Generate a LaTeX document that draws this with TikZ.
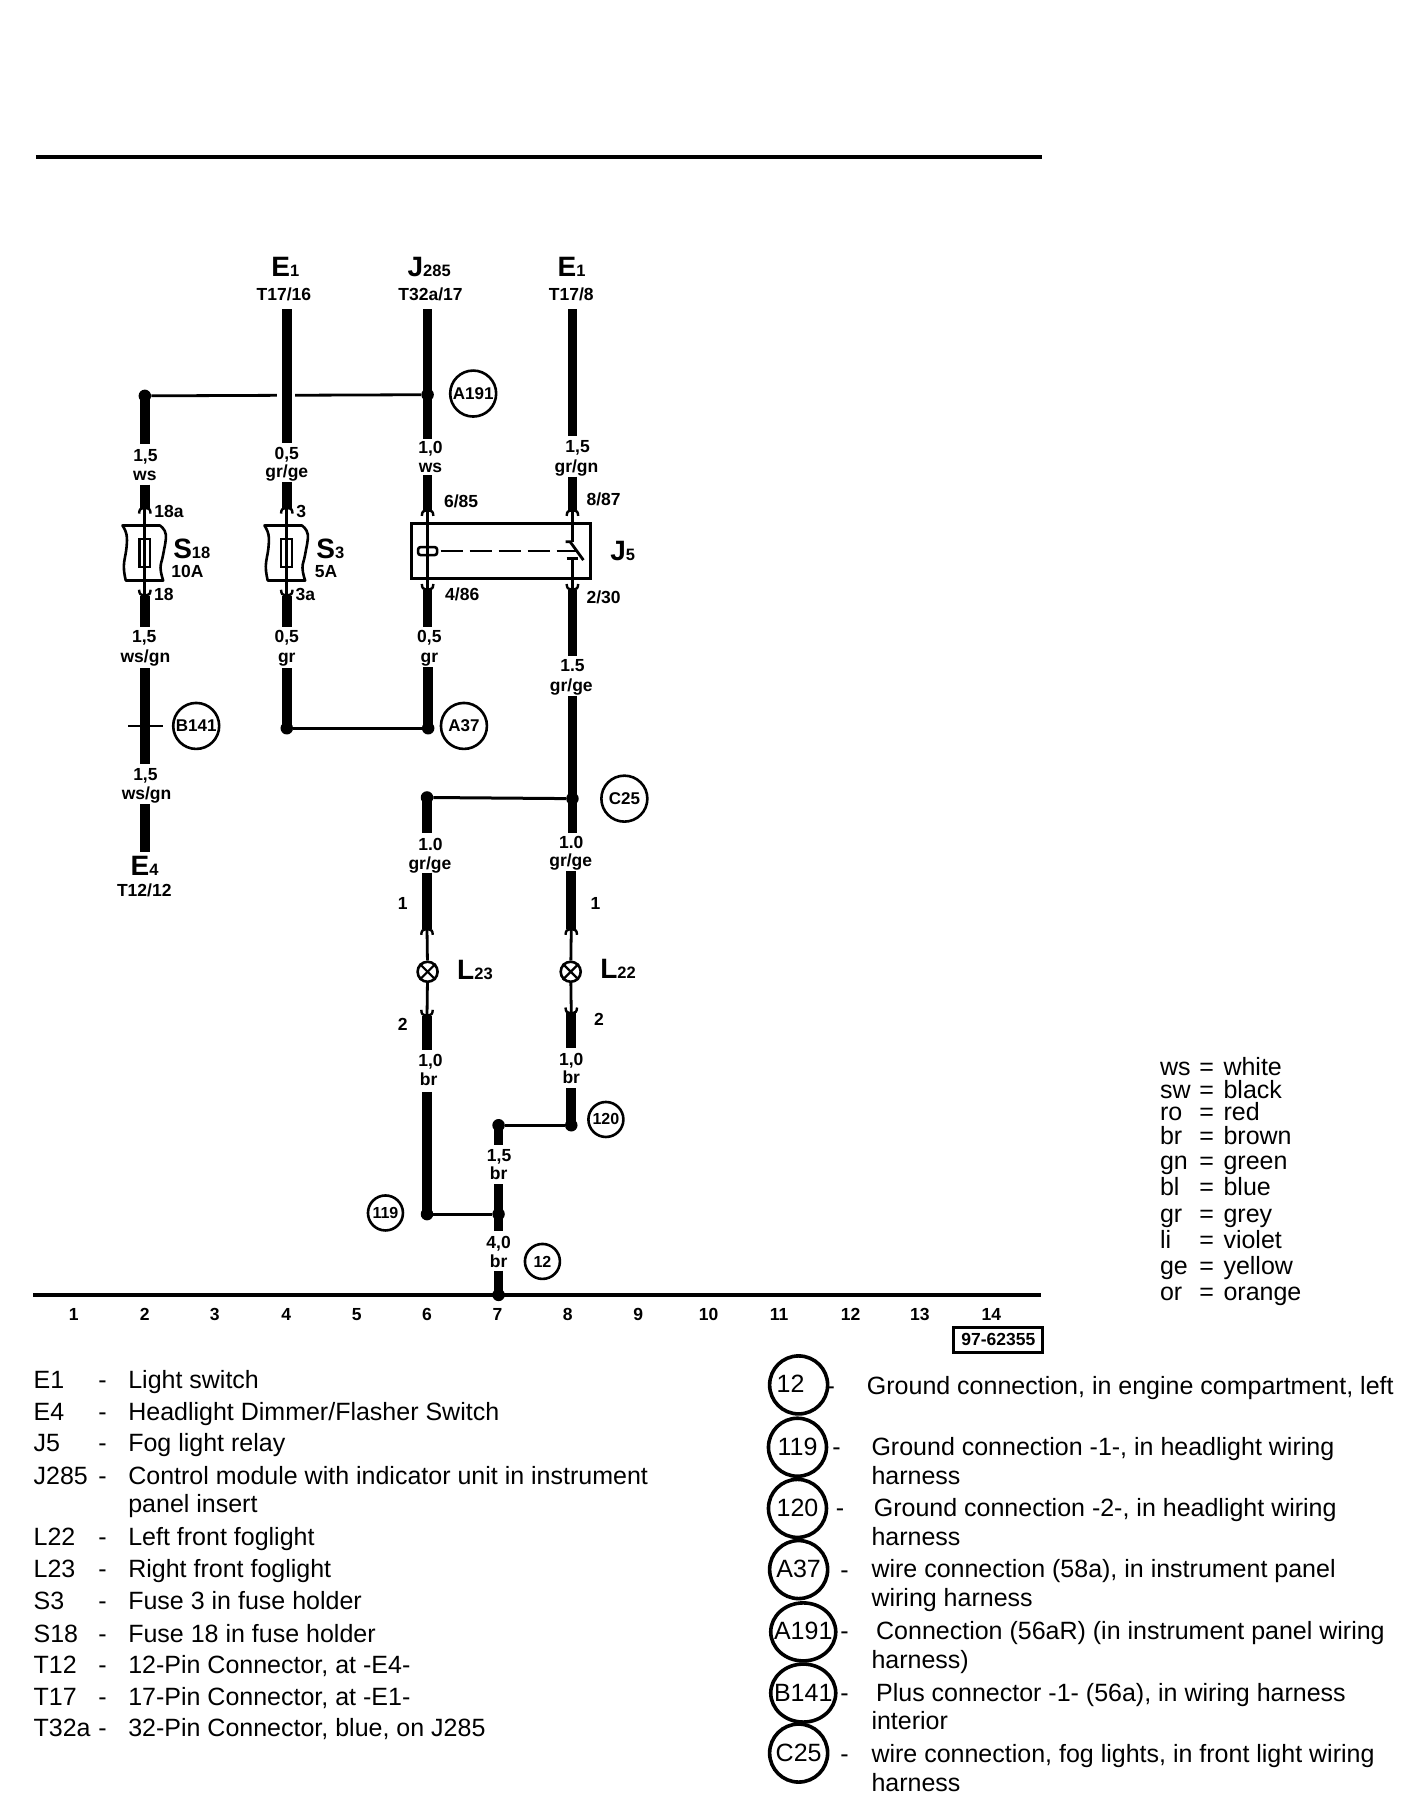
\documentclass[tikz,border=0pt]{standalone}
\usepackage{fontspec}
\setmainfont{Liberation Sans}
\usetikzlibrary{shapes.geometric}
\newcommand\bigsub[2]{{\fontsize{28}{28}\selectfont #1}{\fontsize{16.5}{16.5}\selectfont #2}}
% cap of a connector: arch over the thin lead; dir 1 opens downward, -1 upward
\newcommand\wirecap[3]{\draw[capline] (#1-5,#2+5*#3) .. controls (#1-4.5,#2+1*#3) .. (#1,#2) .. controls (#1+4.5,#2+1*#3) .. (#1+5,#2+5*#3);}
\newcommand\fusebody[2]{%
  \begin{scope}[shift={(#1,#2)}]
    \draw[symline,line join=round] plot[smooth,tension=.7] coordinates {(-19.4,-23.7) (-15.9,-15.9) (-15.9,-4.3) (-18.2,11.6) (-16.5,24)}
      -- plot[smooth,tension=.7] coordinates {(15.9,24) (13.6,13) (15.9,1.4) (18.2,-15.9) (13,-23.7)} -- cycle;
    \draw[symline,line width=2.2pt] (-4.7,-12) rectangle (4.7,12);
  \end{scope}}
\tikzset{
  x=1.15410pt,y=-1.15410pt,
  wire/.style={line width=9.6pt,line cap=butt},
  lead/.style={line width=2.8pt},
  symline/.style={line width=2.6pt},
  capline/.style={line width=2.4pt},
  rule/.style={line width=3.4pt},
  dotnode/.style={circle,fill=black,inner sep=0pt,minimum size=12.5pt},
  lab/.style={inner sep=0pt,font=\bfseries\fontsize{17.5}{17.5}\selectfont,text height=11.5pt,text depth=0pt},
  big/.style={inner sep=0pt,font=\bfseries,anchor=base west},
  ring/.style={circle,draw,line width=2.6pt,inner sep=0pt,minimum size=46pt,font=\bfseries\fontsize{17}{17}\selectfont},
  sring/.style={circle,draw,line width=2.6pt,inner sep=0pt,minimum size=35pt,font=\bfseries\fontsize{16}{16}\selectfont},
  txt/.style={inner sep=0pt,anchor=west,font=\fontsize{25}{25}\selectfont,text height=16pt,text depth=0pt},
  lgring/.style={ellipse,draw,line width=3.6pt,inner sep=0pt,minimum width=#1,minimum height=58pt},
  every label/.style={inner sep=0pt,font=\fontsize{25}{25}\selectfont,text height=16pt,text depth=0pt},
}
\begin{document}
\begin{tikzpicture}
\useasboundingbox[fill=white] (0,0) rectangle (1220,1566.6);
% rules
\coordinate (ra) at (31,136); \coordinate (rb) at (903,136);
\draw[rule] (ra) -- (rb);
\coordinate (ga) at (29,1122); \coordinate (gb) at (902,1122);
\draw[rule,line width=4pt] (ga) -- (gb);
% junctions
\node[dotnode] (d2) at (125.5,343) {};
\node[dotnode] (d6) at (370.5,342) {};
\node[dotnode] (d4b) at (248.5,631) {};
\node[dotnode] (d6b) at (371,631) {};
\node[dotnode] (d6c) at (370,691) {};
\node[dotnode] (d8c) at (496,692) {};
\node[dotnode] (d7t) at (432,975) {};
\node[dotnode] (d8t) at (495,975) {};
\node[dotnode] (d6g) at (370,1052) {};
\node[dotnode] (d7g) at (432,1052) {};
\node[dotnode] (d7e) at (432,1122) {};
% column 2
\coordinate (a1) at (125.5,343); \coordinate (a2) at (125.5,385);
\coordinate (a3) at (125.5,420); \coordinate (a4) at (125.5,440);
\coordinate (a5) at (125.5,516); \coordinate (a6) at (125.5,543);
\coordinate (a7) at (125.5,579); \coordinate (a8) at (125.5,662);
\coordinate (a9) at (125.5,697); \coordinate (a10) at (125.5,738);
\draw[wire] (a1) -- (a2); \draw[wire] (a3) -- (a4); \draw[wire] (a5) -- (a6);
\draw[wire] (a7) -- (a8); \draw[wire] (a9) -- (a10);
\draw[lead] (a4) -- (a5);
% column 4
\coordinate (b1) at (248.5,268); \coordinate (b2) at (248.5,384);
\coordinate (b3) at (248.5,418); \coordinate (b4) at (248.5,440);
\coordinate (b5) at (248.5,516); \coordinate (b6) at (248.5,543);
\coordinate (b7) at (248.5,579); \coordinate (b8) at (248.5,631);
\draw[wire] (b3) -- (b4); \draw[wire] (b5) -- (b6); \draw[wire] (b7) -- (b8);
\draw[lead] (b4) -- (b5);
% column 6
\coordinate (c1) at (370.5,268); \coordinate (c2) at (370.5,380);
\coordinate (c3) at (370.5,412); \coordinate (c4) at (370.5,442);
\coordinate (c5) at (370.5,511); \coordinate (c6) at (370.5,543);
\coordinate (c7) at (371,578); \coordinate (c8) at (371,631);
\coordinate (c9) at (370,691); \coordinate (c10) at (370,722);
\coordinate (c11) at (370,756); \coordinate (c12) at (370,805);
\coordinate (c13) at (370,880); \coordinate (c14) at (370,910);
\coordinate (c15) at (370,946); \coordinate (c16) at (370,1052);
\draw[wire] (c1) -- (c2); \draw[wire] (c3) -- (c4); \draw[wire] (c5) -- (c6); \draw[wire] (c7) -- (c8);
\draw[wire] (c9) -- (c10); \draw[wire] (c11) -- (c12); \draw[wire] (c13) -- (c14); \draw[wire] (c15) -- (c16);
\draw[lead] (c4) -- (c5);
% column 8
\coordinate (e1) at (496,268); \coordinate (e2) at (496,378);
\coordinate (e3) at (496,413); \coordinate (e4) at (496,442);
\coordinate (e5) at (496,469.4); \coordinate (e6) at (496,484);
\coordinate (e7) at (496,511); \coordinate (e8) at (496,568);
\coordinate (e9) at (496,603); \coordinate (e10) at (496,722);
\coordinate (e11) at (495,755); \coordinate (e12) at (495,805);
\coordinate (e13) at (495,878); \coordinate (e14) at (495,908);
\coordinate (e15) at (495,943); \coordinate (e16) at (495,975);
\draw[wire] (e1) -- (e2); \draw[wire] (e3) -- (e4); \draw[wire] (e7) -- (e8); \draw[wire] (e9) -- (e10);
\draw[wire] (e11) -- (e12); \draw[wire] (e13) -- (e14); \draw[wire] (e15) -- (e16);
\draw[lead] (e4) -- (e5); \draw[lead] (e6) -- (e7);
% column 7
\coordinate (f1) at (432,975); \coordinate (f2) at (432,992);
\coordinate (f3) at (432,1026); \coordinate (f4) at (432,1067);
\coordinate (f5) at (432,1101); \coordinate (f6) at (432,1122);
\draw[wire] (f1) -- (f2); \draw[wire] (f3) -- (f4); \draw[wire] (f5) -- (f6);
% cross links
\draw[lead] (d2) -- (d6);
\fill[white] (240,338) rectangle (256,347);
\draw[wire] (b1) -- (b2);
\draw[symline,line width=3pt] (d4b) -- (d6b);
\draw[symline,line width=3pt] (d6c) -- (d8c);
\draw[lead] (d7t) -- (d8t);
\draw[symline,line width=3pt] (d6g) -- (d7g);
\coordinate (t1) at (111,629); \coordinate (t2) at (141,629);
\draw[lead] (t1) -- (t2);
% caps
\wirecap{125.5}{440}{1} \wirecap{125.5}{516}{-1}
\wirecap{248.5}{440}{1} \wirecap{248.5}{516}{-1}
\wirecap{370.5}{442}{1} \wirecap{370.5}{511}{-1}
\wirecap{496}{442}{1} \wirecap{496}{511}{-1}
\wirecap{370}{805}{1} \wirecap{370}{880}{-1}
\wirecap{495}{805}{1} \wirecap{495}{878}{-1}
% fuses
\fusebody{125.5}{479}
\fusebody{248.5}{479}
% relay
\node[draw,line width=3pt,minimum width=179pt,minimum height=55pt,inner sep=0pt] (relay) at (434.4,477) {};
\node[draw,line width=2.6pt,rounded corners=2.5pt,inner sep=0pt,minimum width=19pt,minimum height=8pt] (coil) at (370.5,477.5) {};
\coordinate (sw0) at (500,477.5);
\draw[lead,dash pattern=on 22pt off 7pt] (coil.east) ++(2,0) -- (sw0);
\coordinate (sw1) at (490,469.4); \coordinate (sw2) at (494,469.4); \coordinate (sw3) at (505.5,485.3);
\draw[lead] (sw1) -- (sw2) -- (sw3);
\coordinate (sw4) at (491,484); \coordinate (sw5) at (501,484);
\draw[lead] (sw4) -- (sw5);
% lamps
\coordinate (l1) at (370,805); \coordinate (l2) at (370,880);
\node[circle,draw,line width=2.6pt,minimum size=20pt,inner sep=0pt,fill=white] (lamp23) at (370.5,842) {};
\draw[lead] (l1) -- (lamp23); \draw[lead] (lamp23) -- (l2);
\draw[lead,line width=2.2pt] (lamp23.north west) -- (lamp23.south east);
\draw[lead,line width=2.2pt] (lamp23.north east) -- (lamp23.south west);
\coordinate (l3) at (495,805); \coordinate (l4) at (495,878);
\node[circle,draw,line width=2.6pt,minimum size=20pt,inner sep=0pt,fill=white] (lamp22) at (494.5,842) {};
\draw[lead] (l3) -- (lamp22); \draw[lead] (lamp22) -- (l4);
\draw[lead,line width=2.2pt] (lamp22.north west) -- (lamp22.south east);
\draw[lead,line width=2.2pt] (lamp22.north east) -- (lamp22.south west);
% component titles
\node[big] (tE1a) at (235,240) {\bigsub{E}{1}};
\node[big] (tJ285) at (353,240) {\bigsub{J}{285}};
\node[big] (tE1b) at (483,240) {\bigsub{E}{1}};
\node[lab] (pa) at (246,255) {T17/16};
\node[lab] (pb) at (373,255) {T32a/17};
\node[lab] (pc) at (495,255) {T17/8};
\node[big] (tS18) at (150,484) {\bigsub{S}{18}};
\node[big] (tS3) at (274,484) {\bigsub{S}{3}};
\node[lab] (a10A) at (162.5,495) {10A};
\node[lab] (a5A) at (282.5,495) {5A};
\node[big] (tJ5) at (528.6,486) {\bigsub{J}{5}};
\node[big] (tE4) at (113,759) {\bigsub{E}{4}};
\node[lab] (pd) at (125,772) {T12/12};
\node[big] (tL23) at (396,849) {\bigsub{L}{23}};
\node[big] (tL22) at (520,848) {\bigsub{L}{22}};
% wire labels
\node[lab] (n1) at (126,395) {1,5};  \node[lab] (n2) at (125.5,411) {ws};
\node[lab] (n3) at (248.5,393) {0,5}; \node[lab] (n4) at (248.5,409) {gr/ge};
\node[lab] (n5) at (373,388) {1,0}; \node[lab] (n6) at (373,404) {ws};
\node[lab] (n7) at (500.5,387) {1,5}; \node[lab] (n8) at (499.5,404) {gr/gn};
\node[lab] (n9) at (125,552) {1,5}; \node[lab] (n10) at (126,569) {ws/gn};
\node[lab] (n11) at (248.5,552) {0,5}; \node[lab] (n12) at (248.5,569) {gr};
\node[lab] (n13) at (372,552) {0,5}; \node[lab] (n14) at (372,569) {gr};
\node[lab] (n15) at (496,577) {1.5}; \node[lab] (n16) at (495,594) {gr/ge};
\node[lab] (n17) at (126,671) {1,5}; \node[lab] (n18) at (127,688) {ws/gn};
\node[lab] (n19) at (373,732) {1.0}; \node[lab] (n20) at (372.5,748) {gr/ge};
\node[lab] (n21) at (495,730) {1.0}; \node[lab] (n22) at (494.5,746) {gr/ge};
\node[lab] (n23) at (373,919) {1,0}; \node[lab] (n24) at (371.5,936) {br};
\node[lab] (n25) at (495,918) {1,0}; \node[lab] (n26) at (495,934) {br};
\node[lab] (n27) at (432.5,1001) {1,5}; \node[lab] (n28) at (432,1017) {br};
\node[lab] (n29) at (432,1077) {4,0}; \node[lab] (n30) at (432,1093) {br};
% pin labels
\node[lab] (p1) at (146.5,443) {18a};
\node[lab] (p2) at (142,515) {18};
\node[lab] (p3) at (261,443) {3};
\node[lab] (p4) at (264.5,515.5) {3a};
\node[lab] (p5) at (399.5,434.7) {6/85};
\node[lab] (p6) at (523,433) {8/87};
\node[lab] (p7) at (400.5,515) {4/86};
\node[lab] (p8) at (523,517.5) {2/30};
\node[lab] (p9) at (349,783) {1};
\node[lab] (p10) at (516,783) {1};
\node[lab] (p11) at (349,888) {2};
\node[lab] (p12) at (519,884) {2};
% circled references
\node[ring] (A191) at (410,341) {A191};
\node[ring] (B141) at (170,629) {B141};
\node[ring] (A37) at (402,629) {A37};
\node[ring] (C25) at (541,692) {C25};
\node[sring] (s120) at (525,970) {120};
\node[sring] (s119) at (334,1051) {119};
\node[sring] (s12) at (470,1093) {12};
% grid numbers
\foreach \n/\xx in {1/64,2/125.5,3/186,4/248,5/309,6/370,7/431,8/492,9/553,10/614,11/675,12/737,13/797,14/859}
  \node[lab] (g\n) at (\xx,1139) {\n};
\node[draw,line width=2.8pt,lab,text height=12pt,minimum width=89pt,minimum height=25pt] (code) at (865,1161) {97-62355};
% component legend
\foreach \k/\yy/\code in {1/1196/E1,2/1224/E4,3/1251/J5,4/1279/J285,5/1332/L22,6/1360/L23,7/1388/S3,8/1416/S18,9/1443/T12,10/1471/T17,11/1498/T32a}
  \node[txt] (kc\k) at (29,\yy) {\code};
\foreach \k/\yy in {1/1196,2/1224,3/1251,4/1279,5/1332,6/1360,7/1388,8/1416,9/1443,10/1471,11/1498}
  \node[txt] (kd\k) at (85,\yy) {-};
\node[txt] (kt1) at (111,1196) {Light switch};
\node[txt] (kt2) at (111,1224) {Headlight Dimmer/Flasher Switch};
\node[txt] (kt3) at (111,1251) {Fog light relay};
\node[txt] (kt4) at (111,1279) {Control module with indicator unit in instrument};
\node[txt] (kt4b) at (111,1304) {panel insert};
\node[txt] (kt5) at (111,1332) {Left front foglight};
\node[txt] (kt6) at (111,1360) {Right front foglight};
\node[txt] (kt7) at (111,1388) {Fuse 3 in fuse holder};
\node[txt] (kt8) at (111,1416) {Fuse 18 in fuse holder};
\node[txt] (kt9) at (111,1443) {12-Pin Connector, at -E4-};
\node[txt] (kt10) at (111,1471) {17-Pin Connector, at -E1-};
\node[txt] (kt11) at (111,1498) {32-Pin Connector, blue, on J285};
% reference legend
\node[lgring=58pt,label={[xshift=-8pt]center:12}] (r12) at (692,1200) {};
\node[lgring=58pt,label={center:119}] (r119) at (691,1254) {};
\node[lgring=58pt,label={center:120}] (r120) at (691,1307) {};
\node[lgring=58pt,label={center:A37}] (rA37) at (692,1360) {};
\node[lgring=65pt,label={center:A191}] (rA191) at (696,1414) {};
\node[lgring=65pt,label={center:B141}] (rB141) at (696,1467) {};
\node[lgring=58pt,label={center:C25}] (rC25) at (692,1519) {};
\node[txt] (rd1) at (716,1201) {-};
\node[txt] (rd2) at (721,1254) {-};
\node[txt] (rd3) at (724,1307) {-};
\node[txt] (rd4) at (728,1361) {-};
\node[txt] (rd5) at (728,1414) {-};
\node[txt] (rd6) at (728,1467) {-};
\node[txt] (rd7) at (728,1520) {-};
\node[txt] (rt1) at (751,1201) {Ground connection, in engine compartment, left};
\node[txt] (rt2) at (755,1254) {Ground connection -1-, in headlight wiring};
\node[txt] (rt2b) at (755,1279) {harness};
\node[txt] (rt3) at (757,1307) {Ground connection -2-, in headlight wiring};
\node[txt] (rt3b) at (755,1332) {harness};
\node[txt] (rt4) at (755,1360) {wire connection (58a), in instrument panel};
\node[txt] (rt4b) at (755,1385) {wiring harness};
\node[txt] (rt5) at (759,1414) {Connection (56aR) (in instrument panel wiring};
\node[txt] (rt5b) at (755,1439) {harness)};
\node[txt] (rt6) at (759,1467) {Plus connector -1- (56a), in wiring harness};
\node[txt] (rt6b) at (755,1492) {interior};
\node[txt] (rt7) at (755,1520) {wire connection, fog lights, in front light wiring};
\node[txt] (rt7b) at (755,1545) {harness};
% colour legend
\foreach \k/\yy/\a/\b in {1/925/ws/white,2/945/sw/black,3/964/ro/red,4/985/br/brown,5/1006/gn/green,6/1029/bl/blue,7/1052/gr/grey,8/1075/li/violet,9/1097/ge/yellow,10/1120/or/orange}{
  \node[txt] (ca\k) at (1005,\yy) {\a};
  \node[txt] (ce\k) at (1039,\yy) {=};
  \node[txt] (cv\k) at (1060,\yy) {\b};
}
\end{tikzpicture}
\end{document}
